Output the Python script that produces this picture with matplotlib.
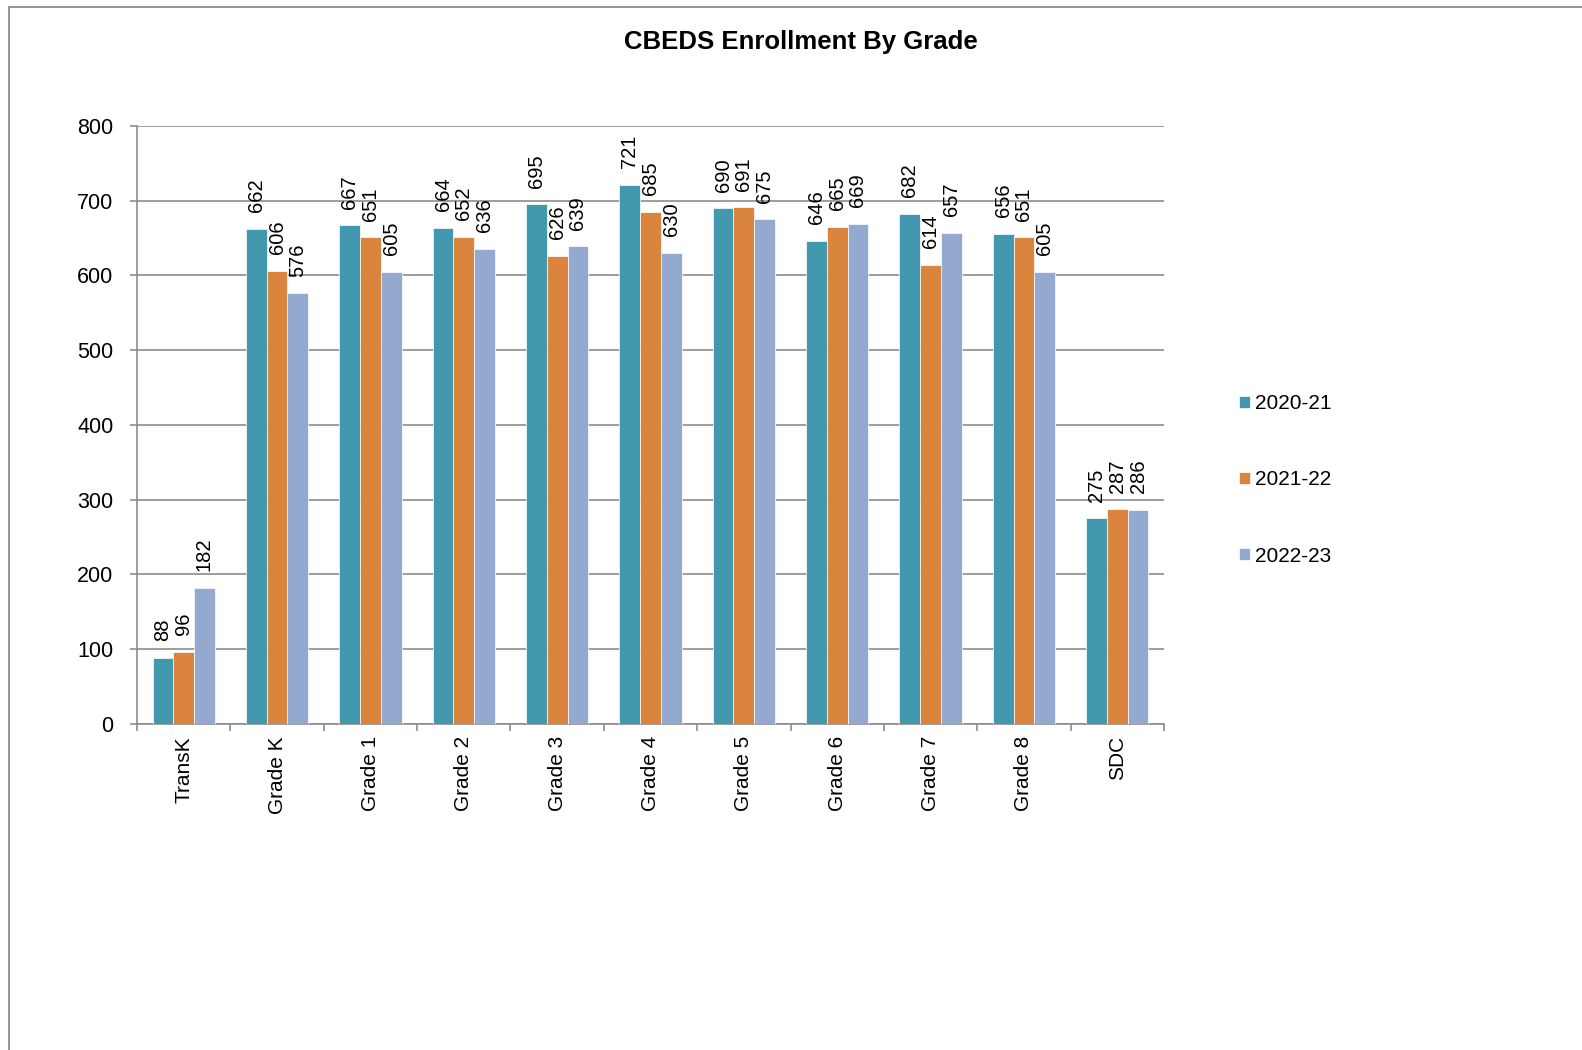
import matplotlib.pyplot as plt
import numpy as np
from matplotlib.patches import Rectangle

plt.rcParams['font.family'] = ['Liberation Sans', 'DejaVu Sans']

# Enrollment data
grades = ['TransK', 'Grade K', 'Grade 1', 'Grade 2', 'Grade 3', 'Grade 4',
          'Grade 5', 'Grade 6', 'Grade 7', 'Grade 8', 'SDC']
years = ['2020-21', '2021-22', '2022-23']
enroll_2020 = [88, 662, 667, 664, 695, 721, 690, 646, 682, 656, 275]
enroll_2021 = [96, 606, 651, 652, 626, 685, 691, 665, 614, 651, 287]
enroll_2022 = [182, 576, 605, 636, 639, 630, 675, 669, 657, 605, 286]
colors = ['#4198AF', '#DB843D', '#93A9CF']

gray = '#8C8C8C'

fig = plt.figure(figsize=(15.82, 10.5), dpi=100)

# outer chart frame (only left and top edges fall inside the image)
fig.patches.append(Rectangle((9 / 1582, -0.1), 1.2, 1 - 7 / 1050 + 0.1,
                             transform=fig.transFigure, fill=False,
                             edgecolor=gray, linewidth=1.3))

ax = fig.add_axes([137 / 1582, 1 - 723.6 / 1050, (1164 - 137) / 1582, (723.6 - 126) / 1050])

x = np.arange(len(grades))
w = 1 / 4.5
series = [enroll_2020, enroll_2021, enroll_2022]
for i, vals in enumerate(series):
    pos = x + (i - 1) * w
    bars = ax.bar(pos, vals, w, color=colors[i], label=years[i],
                  edgecolor='white', linewidth=0.5, zorder=3)
    for b, v in zip(bars, vals):
        ax.annotate(str(v), (b.get_x() + b.get_width() / 2, v),
                    xytext=(0, 12), textcoords='offset points',
                    rotation=90, ha='center', va='bottom', fontsize=14.5)

ax.set_xlim(-0.5, len(grades) - 0.5)
ax.set_ylim(0, 800)
ax.set_yticks(range(0, 801, 100))
ax.yaxis.grid(True, color=gray, linewidth=1.2, zorder=0)
ax.set_axisbelow(True)

# boundaries get the tick marks, category names sit between them
ax.set_xticks(np.arange(-0.5, len(grades)), labels=[])
ax.set_xticks(x, labels=grades, minor=True, rotation=90)
ax.tick_params(axis='x', which='major', length=5, width=1.2, color=gray, direction='out')
ax.tick_params(axis='x', which='minor', length=0, pad=9, labelsize=15)
ax.tick_params(axis='y', length=5, width=1.2, color=gray, pad=12, labelsize=15.5)

for s in ['top', 'right']:
    ax.spines[s].set_visible(False)
for s in ['left', 'bottom']:
    ax.spines[s].set_color(gray)
    ax.spines[s].set_linewidth(1.2)

fig.text(801 / 1582, 1 - 42 / 1050, 'CBEDS Enrollment By Grade', ha='center', va='center',
         fontsize=18.5, fontweight='bold')

fig.legend(loc='center left', bbox_to_anchor=(1229 / 1582, 1 - 480 / 1050),
           frameon=False, fontsize=15, handlelength=0.5, handleheight=0.5,
           handletextpad=0.25, labelspacing=2.75, borderpad=0)

fig.savefig('out.png', dpi=100)
